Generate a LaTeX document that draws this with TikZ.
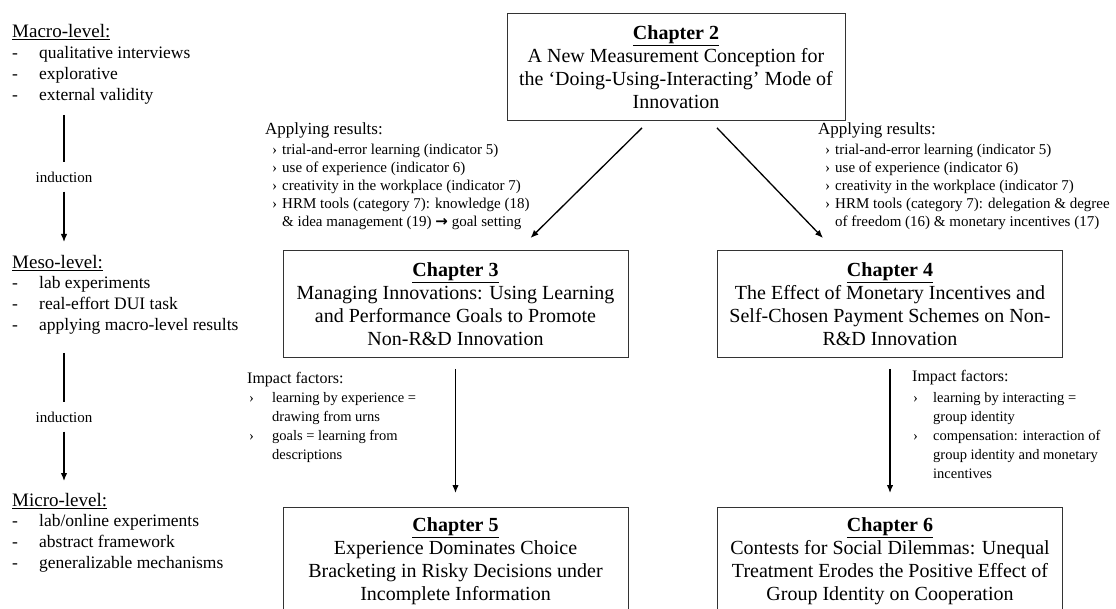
\documentclass[tikz,border=0pt]{standalone}
\usepackage{fontspec}
\setmainfont{Liberation Serif}
\newfontfamily\arrowfont{DejaVu Sans}
\usetikzlibrary{arrows.meta,calc}
\begin{document}
\begin{tikzpicture}[x=1pt,y=-1pt,
  chap/.style={draw=black!80,line width=0.9pt,minimum width=345pt,minimum height=107pt,inner sep=0pt,align=center,anchor=north,font=\fontsize{20}{23}\selectfont},
  arr/.style={line width=1.3pt,-{Latex[length=8pt,width=6.5pt]}},
  plainline/.style={line width=1.3pt},
  lvlhead/.style={anchor=west,inner sep=0pt,font=\fontsize{19}{22}\selectfont},
  lvllist/.style={anchor=north west,inner sep=0pt,font=\fontsize{17.5}{21}\selectfont},
  indlabel/.style={inner sep=0pt,minimum height=29pt,font=\fontsize{15}{18}\selectfont},
  annhead/.style={anchor=west,inner sep=0pt,font=\fontsize{17}{20}\selectfont},
  annlist/.style={anchor=north west,inner sep=0pt,font=\fontsize{15}{18}\selectfont},
  imphead/.style={anchor=west,inner sep=0pt,font=\fontsize{16}{19}\selectfont},
  implist/.style={anchor=north west,inner sep=0pt,font=\fontsize{14.5}{19}\selectfont}
]
\useasboundingbox (0,0) rectangle (1116,609);
\clip (0,0) rectangle (1116,609);
\fill[white] (0,0) rectangle (1116,609);

% chapter boxes
\node[chap,minimum width=338pt] (ch2) at (676,13) {\underline{\textbf{Chapter 2}}\\A New Measurement Conception for\\the ‘Doing-Using-Interacting’ Mode of\\Innovation};
\node[chap] (ch3) at (455.5,250) {\underline{\textbf{Chapter 3}}\\Managing Innovations: Using Learning\\and Performance Goals to Promote\\Non-R\&D Innovation};
\node[chap] (ch4) at (890,250) {\underline{\textbf{Chapter 4}}\\The Effect of Monetary Incentives and\\Self-Chosen Payment Schemes on Non-\\R\&D Innovation};
\node[chap] (ch5) at (455.5,507) {\underline{\textbf{Chapter 5}}\\Experience Dominates Choice\\Bracketing in Risky Decisions under\\Incomplete Information};
\node[chap] (ch6) at (890,507) {\underline{\textbf{Chapter 6}}\\Contests for Social Dilemmas: Unequal\\Treatment Erodes the Positive Effect of\\Group Identity on Cooperation};

% connectors between chapters
\draw[arr] ($(ch2.south)+(-34,7)$) -- ($(ch3.north)+(75,-12)$);
\draw[arr] ($(ch2.south)+(41,7)$) -- ($(ch4.north)+(-67,-12)$);
\draw[arr] ($(ch3.south)+(0,11)$) -- ($(ch5.north)+(0,-14)$);
\draw[arr] ($(ch4.south)+(0,11)$) -- ($(ch6.north)+(0,-14)$);

% applying results
\node[annhead] (appLh) at (265,130) {Applying results:};
\node[annlist] (appL) at (272,142) {\begin{tabular}{@{}p{10pt}@{}l@{}}
›&trial-and-error learning (indicator 5)\\
›&use of experience (indicator 6)\\
›&creativity in the workplace (indicator 7)\\
›&HRM tools (category 7): knowledge (18)\\
&\& idea management (19) {\arrowfont\bfseries →} goal setting
\end{tabular}};
\node[annhead] (appRh) at (818,130) {Applying results:};
\node[annlist] (appR) at (825,142) {\begin{tabular}{@{}p{10pt}@{}l@{}}
›&trial-and-error learning (indicator 5)\\
›&use of experience (indicator 6)\\
›&creativity in the workplace (indicator 7)\\
›&HRM tools (category 7): delegation \& degree\\
&of freedom (16) \& monetary incentives (17)
\end{tabular}};

% impact factors
\node[imphead] (impLh) at (247,380) {Impact factors:};
\node[implist] (impL) at (249,388.5) {\begin{tabular}{@{}p{23pt}@{}l@{}}
›&learning by experience =\\
&drawing from urns\\
›&goals = learning from\\
&descriptions
\end{tabular}};
\node[imphead] (impRh) at (912,378) {Impact factors:};
\node[implist] (impR) at (913,388.5) {\begin{tabular}{@{}p{20pt}@{}l@{}}
›&learning by interacting =\\
&group identity\\
›&compensation: interaction of\\
&group identity and monetary\\
&incentives
\end{tabular}};

% levels
\node[lvlhead] (macro) at (12,32) {\underline{Macro-level:}};
\node[lvllist] (macrol) at (12,44) {\begin{tabular}{@{}p{27pt}@{}l@{}}
-&qualitative interviews\\
-&explorative\\
-&external validity
\end{tabular}};
\node[lvlhead] (meso) at (12,263) {\underline{Meso-level:}};
\node[lvllist] (mesol) at (12,274) {\begin{tabular}{@{}p{27pt}@{}l@{}}
-&lab experiments\\
-&real-effort DUI task\\
-&applying macro-level results
\end{tabular}};
\node[lvlhead] (micro) at (12,501) {\underline{Micro-level:}};
\node[lvllist] (microl) at (12,512) {\begin{tabular}{@{}p{27pt}@{}l@{}}
-&lab/online experiments\\
-&abstract framework\\
-&generalizable mechanisms
\end{tabular}};

% induction connectors
\coordinate (a1) at (64,115);
\node[indlabel] (ind1) at (64,177) {induction};
\coordinate (a2) at (64,242);
\draw[plainline] (a1) -- (ind1.north);
\draw[arr] (ind1.south) -- (a2);
\coordinate (b1) at (64,353);
\node[indlabel] (ind2) at (64,417) {induction};
\coordinate (b2) at (64,481);
\draw[plainline] (b1) -- (ind2.north);
\draw[arr] (ind2.south) -- (b2);
\end{tikzpicture}
\end{document}
